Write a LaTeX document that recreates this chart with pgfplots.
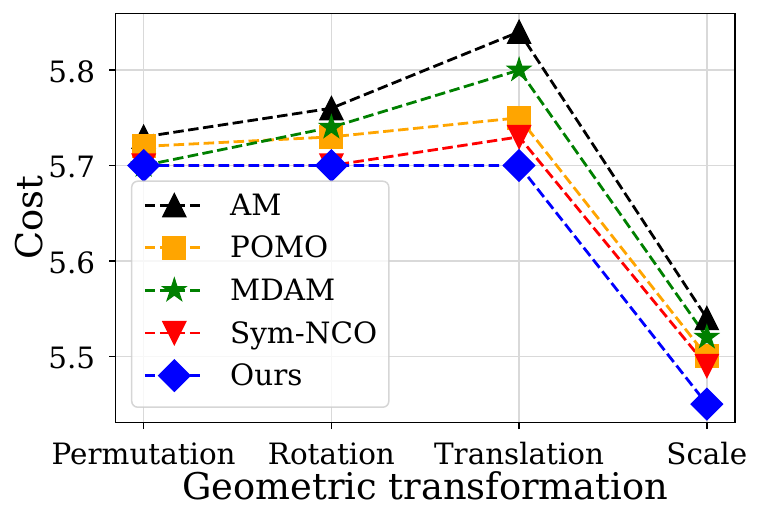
\documentclass[border=0pt]{standalone}
\usepackage{fontspec}
\setmainfont{DejaVu Serif}
\usepackage{pgfplots}
\pgfplotsset{compat=1.18}
\definecolor{morange}{HTML}{FFA500}
\definecolor{mgreen}{HTML}{008000}
\definecolor{mred}{HTML}{FF0000}
\definecolor{mblue}{HTML}{0000FF}
\pgfdeclareplotmark{mtriup}{%
  \pgfpathmoveto{\pgfqpoint{0pt}{\pgfplotmarksize}}%
  \pgfpathlineto{\pgfqpoint{-\pgfplotmarksize}{-\pgfplotmarksize}}%
  \pgfpathlineto{\pgfqpoint{\pgfplotmarksize}{-\pgfplotmarksize}}%
  \pgfpathclose\pgfusepathqfillstroke}
\pgfdeclareplotmark{mtridown}{%
  \pgfpathmoveto{\pgfqpoint{0pt}{-\pgfplotmarksize}}%
  \pgfpathlineto{\pgfqpoint{-\pgfplotmarksize}{\pgfplotmarksize}}%
  \pgfpathlineto{\pgfqpoint{\pgfplotmarksize}{\pgfplotmarksize}}%
  \pgfpathclose\pgfusepathqfillstroke}
\pgfdeclareplotmark{mstar}{%
  \pgfpathmoveto{\pgfqpoint{0pt}{\pgfplotmarksize}}%
  \pgfpathlineto{\pgfqpoint{-0.2245\pgfplotmarksize}{0.309\pgfplotmarksize}}%
  \pgfpathlineto{\pgfqpoint{-0.951\pgfplotmarksize}{0.309\pgfplotmarksize}}%
  \pgfpathlineto{\pgfqpoint{-0.3633\pgfplotmarksize}{-0.118\pgfplotmarksize}}%
  \pgfpathlineto{\pgfqpoint{-0.588\pgfplotmarksize}{-0.809\pgfplotmarksize}}%
  \pgfpathlineto{\pgfqpoint{0pt}{-0.382\pgfplotmarksize}}%
  \pgfpathlineto{\pgfqpoint{0.588\pgfplotmarksize}{-0.809\pgfplotmarksize}}%
  \pgfpathlineto{\pgfqpoint{0.3633\pgfplotmarksize}{-0.118\pgfplotmarksize}}%
  \pgfpathlineto{\pgfqpoint{0.951\pgfplotmarksize}{0.309\pgfplotmarksize}}%
  \pgfpathlineto{\pgfqpoint{0.2245\pgfplotmarksize}{0.309\pgfplotmarksize}}%
  \pgfpathclose\pgfusepathqfillstroke}
\begin{document}
\begin{tikzpicture}
\useasboundingbox (-115.5pt,-98.3pt) rectangle (645.5pt,422.7pt);
\begin{axis}[
  at={(0pt,0pt)}, anchor=south west,
  width=619.5pt, height=409.4pt, scale only axis,
  xmin=-0.15, xmax=3.15, ymin=5.4305, ymax=5.8595,
  xtick={0,1,2,3}, xticklabels={Permutation,Rotation,Translation,Scale},
  ytick={5.5,5.6,5.7,5.8}, yticklabels={5.5,5.6,5.7,5.8},
  /pgf/number format/assume math mode=true,
  tick align=outside, xtick pos=bottom, ytick pos=left,
  major tick length=6.4pt,
  every tick/.style={black, line width=1.5pt},
  axis line style={line width=1.5pt},
  grid=major, major grid style={line width=1.5pt, draw=black!15},
  ticklabel style={font=\fontsize{29.4}{35}\selectfont, inner sep=0pt},
  xticklabel style={anchor=base, yshift=-35pt},
  yticklabel style={anchor=east, xshift=-13.8pt, yshift=-1.7pt},
  xlabel={Geometric transformation}, ylabel={Cost},
  every axis x label/.style={at={(axis description cs:0.5,-0.1864)}, anchor=base, font=\fontsize{36.8}{44}\selectfont},
  every axis y label/.style={at={(axis description cs:-0.1175,0.5)}, rotate=90, anchor=base, font=\fontsize{36.8}{44}\selectfont},
  legend cell align=left,
  legend style={at={(0.025,0.036)}, anchor=south west, draw=black!20, line width=1.5pt,
    rounded corners=6pt, fill=white, fill opacity=0.8, draw opacity=0.8, text opacity=1,
    inner xsep=11.7pt, inner ysep=11.6pt, row sep=10.2pt,
    font=\fontsize{29.4}{35}\selectfont,
    nodes={inner sep=0pt, text height=22.4pt, text depth=10pt}},
  legend image code/.code={%
    \draw[overlay, fill opacity=1, draw opacity=1, yshift=3.8pt, mark repeat=2, mark phase=2, #1]
      plot coordinates {(0pt,0pt) (29.5pt,0pt) (59pt,0pt)};
    \path (0pt,-10pt) (84pt,10pt);},
]
\addplot[black, line width=2.8pt, dash pattern=on 10.5pt off 4.5pt, mark=mtriup, mark size=11.3pt,
  mark options={solid, fill=black, line width=1.5pt}]
  coordinates {(0,5.73) (1,5.76) (2,5.84) (3,5.54)};
\addlegendentry{AM}
\addplot[morange, line width=2.8pt, dash pattern=on 10.5pt off 4.5pt, mark=square*, mark size=11.3pt,
  mark options={solid, fill=morange, line width=1.5pt}]
  coordinates {(0,5.72) (1,5.73) (2,5.75) (3,5.50)};
\addlegendentry{POMO}
\addplot[mgreen, line width=2.8pt, dash pattern=on 10.5pt off 4.5pt, mark=mstar, mark size=11.6pt,
  mark options={solid, fill=mgreen, line width=1.5pt}]
  coordinates {(0,5.70) (1,5.74) (2,5.80) (3,5.52)};
\addlegendentry{MDAM}
\addplot[mred, line width=2.8pt, dash pattern=on 10.5pt off 4.5pt, mark=mtridown, mark size=11.3pt,
  mark options={solid, fill=mred, line width=1.5pt}]
  coordinates {(0,5.70) (1,5.70) (2,5.73) (3,5.49)};
\addlegendentry{Sym-NCO}
\addplot[mblue, line width=2.8pt, dash pattern=on 10.5pt off 4.5pt, mark=square*, mark size=11pt,
  mark options={solid, rotate=45, fill=mblue, line width=1.5pt}]
  coordinates {(0,5.70) (1,5.70) (2,5.70) (3,5.45)};
\addlegendentry{Ours}
\end{axis}
\end{tikzpicture}
\end{document}
